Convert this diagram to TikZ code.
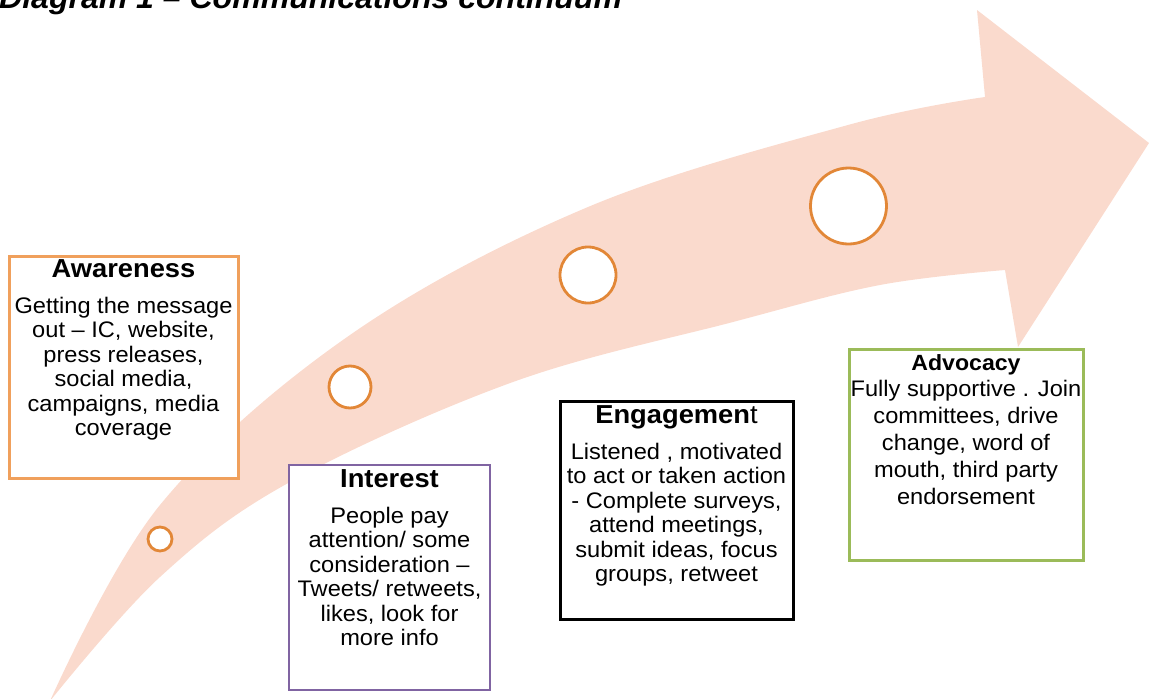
\documentclass[tikz,border=0pt]{standalone}
\usepackage{fontspec}
\setmainfont{Liberation Sans}[FakeStretch=1.05]
\definecolor{bandc}{RGB}{250,218,205}
\definecolor{circc}{RGB}{226,135,55}
\definecolor{awc}{RGB}{240,160,92}
\definecolor{inc}{RGB}{128,100,162}
\definecolor{adc}{RGB}{155,187,89}
\begin{document}
\begin{tikzpicture}[x=1pt,y=-1pt,
  box/.style={draw, fill=white, line width=3pt, inner sep=0pt},
  ttl/.style={font=\fontsize{26}{28}\selectfont\bfseries, inner sep=0pt, anchor=base},
  bodytxt/.style={font=\fontsize{22.5}{24.5}\selectfont, align=center, inner sep=0pt, anchor=base},
  dot/.style={circle, draw=circc, fill=white, line width=2.8pt, inner sep=0pt}]
\useasboundingbox (0,0) rectangle (1149,699);
\clip (0,0) rectangle (1149,699);
% title (cut at the top)
\node[anchor=base west, inner sep=0pt, font=\fontsize{30.5}{32}\selectfont\bfseries\itshape] (dtitle) at (-1,8) {Diagram 1 -- Communications continuum};
% curved arrow
\fill[bandc] plot[smooth, tension=0.6] coordinates {(50,701) (160,505) (350,335) (588,207) (848,125) (985,97)}
  -- (977,10) -- (1149,143) -- (1018,347) -- (1005,270)
  -- plot[smooth, tension=0.6] coordinates {(1005,270) (880,285) (733,322) (513,382) (290,482) (160,577) (50,701)} -- cycle;
% circles
\node[dot, minimum size=24pt] (c1) at (160,539) {};
\node[dot, minimum size=42pt] (c2) at (350,387) {};
\node[dot, minimum size=56pt] (c3) at (588,275) {};
\node[dot, minimum size=76pt] (c4) at (848.5,206) {};
% boxes
\node[box, draw=awc, minimum width=229pt, minimum height=222pt] (aw) at (123.5,367) {};
\node[box, draw=inc, line width=2.6pt, minimum width=201pt, minimum height=225pt] (in) at (389.5,577.5) {};
\node[box, draw=black, minimum width=233pt, minimum height=218pt] (en) at (676.5,510) {};
\node[box, draw=adc, minimum width=234pt, minimum height=211pt] (ad) at (966,454.5) {};
% texts (base anchor = baseline of the last line)
\node[ttl] (awt) at (123.5,277) {Awareness};
\node[bodytxt] (awb) at (123.5,435.5) {Getting the message\\out -- IC, website,\\press releases,\\social media,\\campaigns, media\\coverage};
\node[ttl] (int) at (389.5,487) {Interest};
\node[bodytxt] (inb) at (389.5,645.5) {People pay\\attention/ some\\consideration --\\Tweets/ retweets,\\likes, look for\\more info};
\node[ttl] (ent) at (676.5,423) {\textbf{Engagemen}\mdseries t};
\node[bodytxt] (enb) at (676.5,581.5) {Listened , motivated\\to act or taken action\\- Complete surveys,\\attend meetings,\\submit ideas, focus\\groups, retweet};
\node[ttl, font=\fontsize{22}{24}\selectfont\bfseries] (adt) at (966,370) {Advocacy};
\node[bodytxt, font=\fontsize{22.5}{27}\selectfont] (adb) at (966,504) {Fully supportive . Join\\committees, drive\\change, word of\\mouth, third party\\endorsement};
\end{tikzpicture}
\end{document}
